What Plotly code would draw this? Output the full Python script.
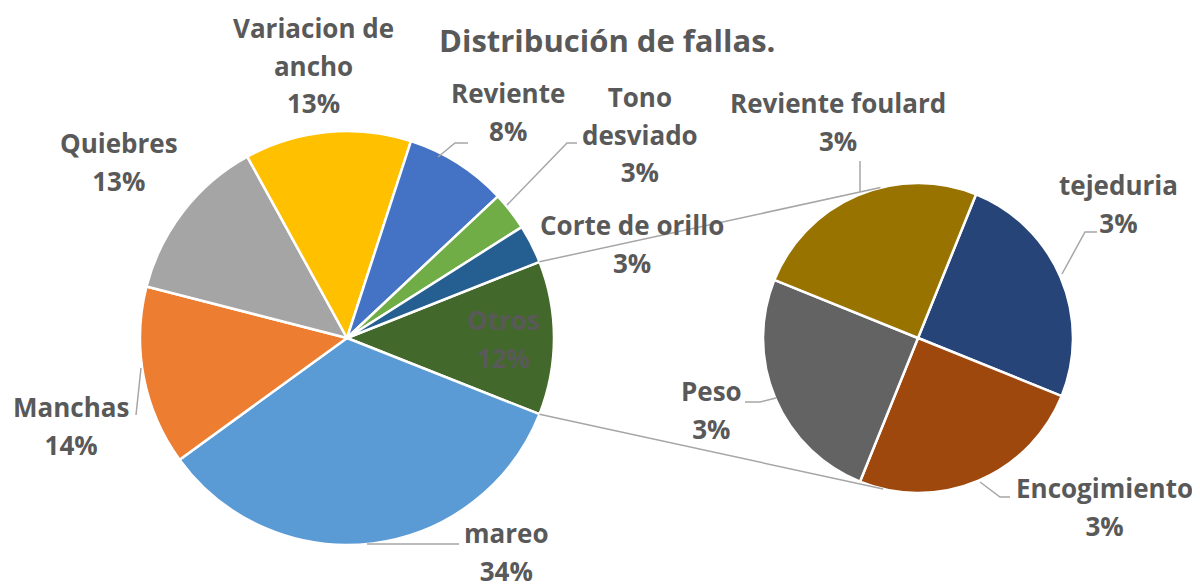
import math
import plotly.graph_objects as go

# main pie categories and values (percent of total)
main_labels = ["mareo", "Manchas", "Quiebres", "Variacion de ancho", "Reviente", "Tono desviado", "Corte de orillo"]
main_values = [34, 14, 13, 13, 8, 3, 3]
main_colors = ["#5B9BD5", "#ED7D31", "#A5A5A5", "#FFC000", "#4472C4", "#70AD47", "#255E91"]

# second pie: the "Otros" slice broken down
sub_labels = ["tejeduria", "Encogimiento", "Peso", "Reviente foulard"]
sub_values = [3, 3, 3, 3]
sub_colors = ["#264478", "#9E480E", "#636363", "#997300"]

otros_label = "Otros"
otros_color = "#43682B"

# the page has an 8px body margin, so the figure is 8px smaller and
# every pixel position below (taken in window pixels) is shifted by it
PAGE_OFF = 8
W, H = 1200 - PAGE_OFF, 588 - PAGE_OFF
GREY = "#595959"
FONT = "Open Sans"

# geometry of the two pies (window pixels)
main_c, main_r = (347, 338), 207
sub_c, sub_r = (918, 338), 155
sub_rotation = 22

def fx(x):
    return (x - PAGE_OFF) / W

def fy(y):
    return 1 - (y - PAGE_OFF) / H

def domain(c, r):
    return dict(x=[fx(c[0] - r), fx(c[0] + r)], y=[fy(c[1] + r), fy(c[1] - r)])

def on_circle(c, r, deg):
    a = math.radians(deg)
    return c[0] + r * math.sin(a), c[1] - r * math.cos(a)

otros_value = sum(sub_values)
total = sum(main_values) + otros_value
otros_span = 360 * otros_value / total
main_rotation = 90 - otros_span / 2

fig = go.Figure()
fig.add_trace(go.Pie(
    labels=[otros_label] + main_labels,
    values=[otros_value] + main_values,
    marker=dict(colors=[otros_color] + main_colors, line=dict(color="white", width=2.5)),
    sort=False, direction="clockwise", rotation=main_rotation,
    textinfo="none", hoverinfo="label+percent", showlegend=False,
    domain=domain(main_c, main_r),
))
fig.add_trace(go.Pie(
    labels=sub_labels,
    values=sub_values,
    marker=dict(colors=sub_colors, line=dict(color="white", width=2.5)),
    sort=False, direction="clockwise", rotation=sub_rotation,
    textinfo="none", hoverinfo="label", showlegend=False,
    domain=domain(sub_c, sub_r),
))

# label placement (window-pixel centre of each text block)
label_pos = {
    "mareo": (506, 552),
    "Manchas": (71, 426),
    "Quiebres": (119, 162),
    "Variacion de ancho": (313, 66),
    "Reviente": (508, 112),
    "Tono desviado": (640, 134),
    "Corte de orillo": (632, 244),
    "Otros": (503, 339),
    "tejeduria": (1118, 204),
    "Encogimiento": (1104, 507),
    "Peso": (711, 410),
    "Reviente foulard": (838, 122),
}
line_breaks = {"Variacion de ancho": "Variacion de<br>ancho", "Tono desviado": "Tono<br>desviado"}

all_labels = main_labels + [otros_label] + sub_labels
all_values = main_values + [otros_value] + sub_values
for lab, val in zip(all_labels, all_values):
    name = line_breaks.get(lab, lab)
    x, y = label_pos[lab]
    txt = "<span style='font-size:26px'>%s<br>%d%%</span>" % (name, round(100 * val / total))
    fig.add_annotation(x=fx(x), y=fy(y), xref="paper", yref="paper", text=txt,
                       showarrow=False, xanchor="center", yanchor="middle",
                       font=dict(family=FONT, size=29, color=GREY, weight="bold"))

fig.add_annotation(x=fx(607), y=fy(40), xref="paper", yref="paper", text="Distribución de fallas.",
                   showarrow=False, xanchor="center", yanchor="middle",
                   font=dict(family=FONT, size=31, color=GREY, weight="bold"))

# connector lines between the Otros slice and the second pie
p_top = on_circle(main_c, main_r, main_rotation)
p_bot = on_circle(main_c, main_r, main_rotation + otros_span)
q_top = on_circle(sub_c, sub_r, -14)
q_bot = on_circle(sub_c, sub_r, 193)
shapes = []
for a, b in [(p_top, q_top), (p_bot, q_bot)]:
    shapes.append(dict(type="line", xref="paper", yref="paper",
                       x0=fx(a[0]), y0=fy(a[1]), x1=fx(b[0]), y1=fy(b[1]),
                       line=dict(color="#A6A6A6", width=1.5)))

# leader lines from labels to slices
leaders = [
    [(367, 544), (459, 544)],
    [(136, 415), (141, 368)],
    [(438, 157), (455, 143), (468, 143)],
    [(507, 205), (567, 143), (577, 143)],
    [(860, 161), (860, 192)],
    [(1097, 232), (1085, 232), (1062, 274)],
    [(745, 402), (760, 402), (776, 398)],
    [(1010, 497), (1000, 497), (980, 482)],
]
for pts in leaders:
    path = "M " + " L ".join("%f,%f" % (fx(x), fy(y)) for x, y in pts)
    shapes.append(dict(type="path", xref="paper", yref="paper", path=path,
                       line=dict(color="#A6A6A6", width=1.5)))

fig.update_layout(
    width=W, height=H,
    margin=dict(l=0, r=0, t=0, b=0),
    paper_bgcolor="white", plot_bgcolor="white",
    shapes=shapes,
)
fig.write_html("out.html")
